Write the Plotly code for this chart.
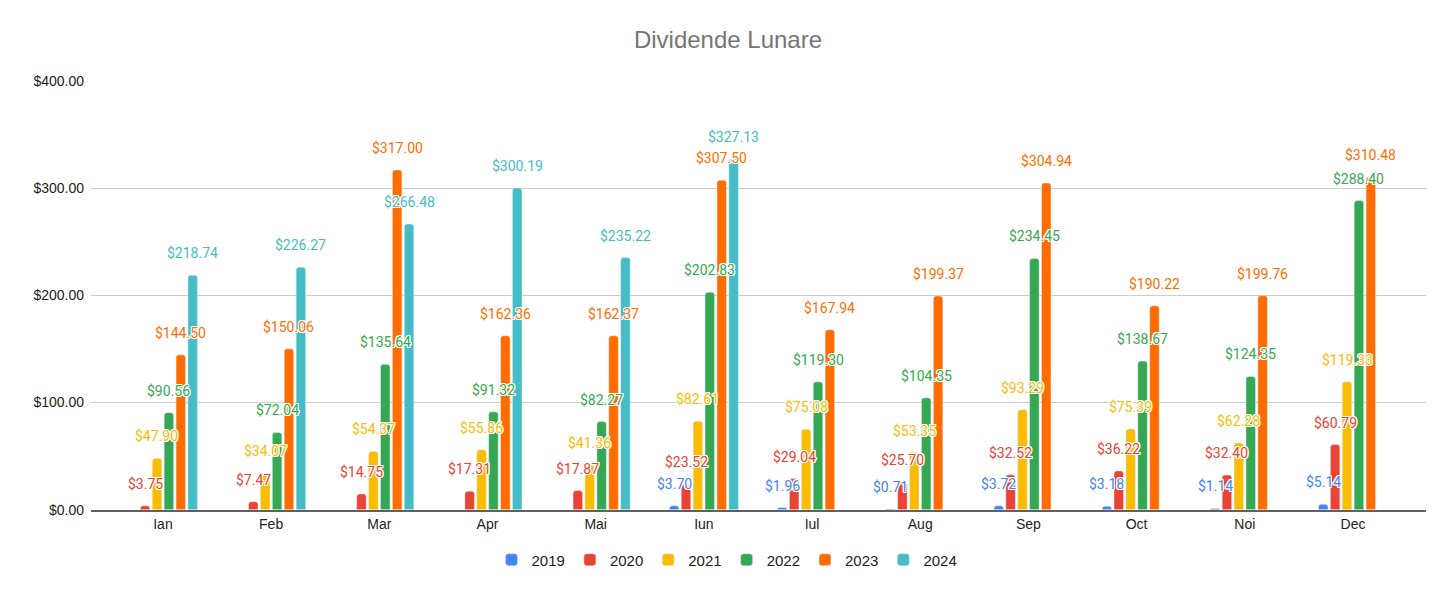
import plotly.graph_objects as go

months = ["Ian", "Feb", "Mar", "Apr", "Mai", "Iun", "Iul", "Aug", "Sep", "Oct", "Noi", "Dec"]
years = ["2019", "2020", "2021", "2022", "2023", "2024"]

v2019 = [None, None, None, None, None, 3.70, 1.96, 0.71, 3.72, 3.18, 1.14, 5.14]
v2020 = [3.75, 7.47, 14.75, 17.31, 17.87, 23.52, 29.04, 25.70, 32.52, 36.22, 32.40, 60.79]
v2021 = [47.90, 34.07, 54.37, 55.86, 41.36, 82.61, 75.08, 53.35, 93.29, 75.39, 62.28, 119.33]
v2022 = [90.56, 72.04, 135.64, 91.32, 82.27, 202.83, 119.30, 104.35, 234.45, 138.67, 124.35, 288.40]
v2023 = [144.50, 150.06, 317.00, 162.36, 162.37, 307.50, 167.94, 199.37, 304.94, 190.22, 199.76, 310.48]
v2024 = [218.74, 226.27, 266.48, 300.19, 235.22, 327.13, None, None, None, None, None, None]

series = [v2019, v2020, v2021, v2022, v2023, v2024]
colors = ["#4285F4", "#EA4335", "#FBBC04", "#34A853", "#FF6D01", "#46BDC6"]

# page has an 8px body margin, so the figure is a bit smaller than the window
W, H = 1448, 590
ML, MR, MT, MB = 83, 30, 73, 86
XMIN, XMAX = -0.665, 11.675
BARGAP = 0.34

HALO = "1px 1px 0 #fff, -1px -1px 0 #fff, 1px -1px 0 #fff, -1px 1px 0 #fff, 0 1px 0 #fff, 0 -1px 0 #fff, 1px 0 0 #fff, -1px 0 0 #fff"

fig = go.Figure()
for year, vals, col in zip(years, series, colors):
    fig.add_trace(go.Bar(x=months, y=vals, name=year, marker_color=col,
                         hovertemplate="%{x} " + year + ": $%{y:.2f}<extra></extra>"))

# data labels above each bar, shifted into the bar's slot
cat_px = (W - ML - MR) / (XMAX - XMIN)
slot_px = cat_px * (1 - BARGAP) / len(years)
annotations = []
for i, (vals, col) in enumerate(zip(series, colors)):
    for m, v in zip(months, vals):
        if v is None:
            continue
        annotations.append(dict(
            x=m, y=v, xref="x", yref="y", text=f"${v:.2f}", showarrow=False,
            xshift=(i - 2.5) * slot_px, yshift=22, yanchor="middle",
            font=dict(family="Roboto, Arial", size=14, color=col, shadow=HALO),
        ))

fig.update_layout(
    width=W, height=H,
    margin=dict(l=ML, r=MR, t=MT, b=MB),
    paper_bgcolor="white", plot_bgcolor="white",
    barmode="group", bargap=BARGAP, bargroupgap=0.2, barcornerradius=3,
    title=dict(text="Dividende Lunare", x=720 / W, xref="container", xanchor="center",
               y=1 - 32 / H, yref="container", yanchor="middle",
               font=dict(family="Arial, Liberation Sans", size=24, color="#757575")),
    font=dict(family="Arial, Liberation Sans", size=14, color="#222222"),
    legend=dict(orientation="h", x=719 / W, xref="container", xanchor="center",
                y=38 / H, yref="container", yanchor="middle",
                font=dict(size=15, color="#222222")),
    annotations=annotations,
    showlegend=True,
)
fig.update_xaxes(range=[XMIN, XMAX], showgrid=False, showline=True, linecolor="#616161",
                 linewidth=2, ticks="", tickfont=dict(size=14, color="#222222"))
fig.update_yaxes(range=[0, 400], dtick=100, tickprefix="$", tickformat=",.2f",
                 showgrid=True, gridcolor="#cccccc", gridwidth=1, zeroline=False,
                 ticklabelstandoff=6, tickfont=dict(size=14, color="#222222"))

fig.write_html("out.html")
